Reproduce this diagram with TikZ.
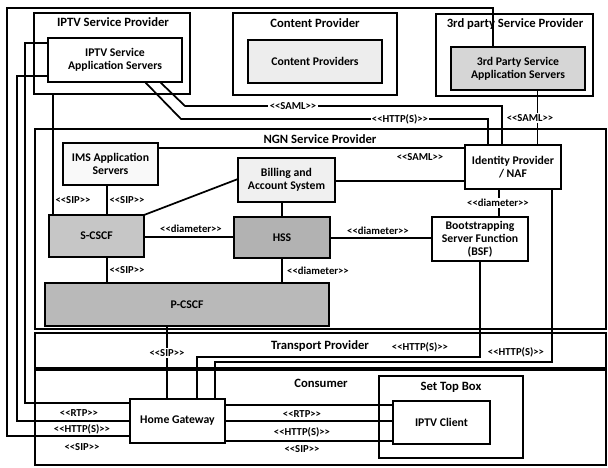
\documentclass[tikz,border=0pt]{standalone}
\usepackage{fontspec}
\setmainfont{Carlito}
\newcommand\bx[7]{%
  \node[#6, minimum width={(#4-#2)*0.75pt}, minimum height={(#5-#3)*0.75pt}] (#1) at ({(#2+#4)/2},{(#3+#5)/2}) {#7};}
\newcommand\st[1]{<{}<#1>{}>}
\begin{document}
\begin{tikzpicture}[x=0.75pt,y=-0.75pt,
  frame/.style={draw,line width=0.9pt,inner sep=0pt,outer sep=0pt},
  box/.style={draw,line width=1pt,inner sep=0pt,outer sep=0pt,align=center,font=\fontsize{8.8}{9.8}\selectfont\bfseries},
  conn/.style={line width=1.3pt},
  thinconn/.style={line width=0.6pt},
  lbl/.style={font=\fontsize{8}{8.5}\selectfont\bfseries,inner sep=1pt},
  lblw/.style={lbl,fill=white},
  ttl/.style={font=\fontsize{9.5}{10.5}\selectfont\bfseries,inner sep=0pt},
]
\fill[white] (0,0) rectangle (608,468);
\useasboundingbox (0,0) rectangle (608,468);
% frames
\bx{iptvsp}{34}{13}{190}{94}{frame}{}
\bx{contp}{233}{13}{397}{95}{frame}{}
\bx{thirdsp}{436}{14}{593}{96}{frame}{}
\bx{ngn}{35}{129}{606}{329}{frame}{}
\bx{transp}{35}{333}{606}{369}{frame}{}
\bx{cons}{35}{369}{606}{465}{frame}{}
\bx{stb}{379}{376}{523}{458}{frame}{}
\draw[line width=2.4pt] (transp.south west) -- (transp.south east);
\draw[line width=1.5pt] (ngn.north west) -- (ngn.north east);
% titles
\node[ttl] (t1) at (113,22) {IPTV Service Provider};
\node[ttl] (t2) at (315,23) {Content Provider};
\node[ttl] (t3) at (515,24) {3rd party Service Provider};
\node[ttl] (t4) at (320,139) {NGN Service Provider};
\node[ttl] (t5) at (320,346) {Transport Provider};
\node[ttl] (t6) at (321,383) {Consumer};
\node[ttl] (t7) at (451,387) {Set Top Box};
% nodes
\bx{iptvas}{48}{38}{182}{82}{box,fill=white}{IPTV Service\\Application Servers}
\bx{contas}{248}{40}{382}{83}{box,fill=gray!14}{Content Providers}
\bx{thirdas}{451}{47}{585}{90}{box,fill=gray!32}{3rd Party Service\\Application Servers}
\bx{ims}{63}{143}{158}{185}{box,fill=gray!5}{IMS Application\\Servers}
\bx{bill}{238}{158}{335}{202}{box,fill=gray!12}{Billing and\\Account System}
\bx{idp}{465}{145}{561}{189}{box,fill=white}{Identity Provider\\/ NAF}
\bx{scscf}{49}{215}{144}{257}{box,fill=gray!45}{S-CSCF}
\bx{hss}{234}{217}{330}{258}{box,fill=gray!60}{HSS}
\bx{bsf}{432}{217}{528}{261}{box,fill=white}{Bootstrapping\\Server Function\\(BSF)}
\bx{pcscf}{45}{283}{329}{326}{box,fill=gray!55}{P-CSCF}
\bx{hg}{130}{399}{225}{443}{box,fill=white}{Home Gateway}
\bx{client}{393}{401}{490}{444}{box,fill=white}{IPTV Client}
% connectors
\draw[conn] (iptvsp.south -| 53,0) -- (scscf.north -| 53,0);
\draw[conn] (ims.south -| 107,0) -- (scscf.north -| 107,0);
\draw[conn] (scscf.south -| 107,0) -- (pcscf.north -| 107,0);
\draw[conn] (scscf.north east) -- (bill.west |- 0,179);
\draw[conn] (scscf.east |- 0,237) -- (hss.west |- 0,237);
\draw[conn] (bill.south -| 282,0) -- (hss.north -| 282,0);
\draw[conn] (hss.south -| 282,0) -- (pcscf.north -| 282,0);
\draw[conn] (hss.east |- 0,238) -- (bsf.west |- 0,238);
\draw[conn] (bill.east |- 0,181) -- (idp.west |- 0,181);
\draw[conn] (ims.east |- 0,148) -- (idp.west |- 0,148);
\draw[conn] (idp.south -| 499,0) -- (bsf.north -| 499,0);
\draw[conn] (iptvas.south -| 160,0) -- (185,106) -- (502,106) -- (idp.north -| 502,0);
\draw[conn] (iptvas.south -| 145,0) -- (181,119) -- (488,119) -- (idp.north -| 488,0);
\draw[thinconn] (thirdas.south -| 537,0) -- (idp.north -| 537,0);
\draw[conn] (pcscf.south -| 167,0) -- (hg.north -| 167,0);
\draw[conn] (bsf.south -| 480,0) -- (480,357) -- (197,357) -- (hg.north -| 197,0);
\draw[conn] (idp.south -| 552,0) -- (552,362) -- (215,362) -- (hg.north -| 215,0);
\draw[conn] (hg.east |- 0,405) -- (client.west |- 0,405);
\draw[conn] (hg.east |- 0,421) -- (client.west |- 0,421);
\draw[conn] (hg.east |- 0,441) -- (client.west |- 0,441);
\draw[conn] (iptvas.west |- 0,43) -- (25,43) -- (25,403) -- (hg.west |- 0,403);
\draw[conn] (iptvas.west |- 0,76) -- (17,76) -- (17,421) -- (hg.west |- 0,421);
\draw[conn] (thirdas.north -| 493,0) -- (493,8) -- (7,8) -- (7,436) -- (hg.west |- 0,436);
% labels
\node[lbl] (l1) at (73,200) {\st{SIP}};
\node[lbl] (l2) at (127,200) {\st{SIP}};
\node[lbl] (l3) at (127,270) {\st{SIP}};
\node[lbl] (l4) at (191,229) {\st{diameter}};
\node[lbl] (l5) at (318,271) {\st{diameter}};
\node[lbl] (l6) at (378,231) {\st{diameter}};
\node[lbl] (l7) at (420,157) {\st{SAML}};
\node[lblw] (l8) at (498,203) {\st{diameter}};
\node[lblw] (l9) at (293,106) {\st{SAML}};
\node[lblw] (l10) at (400,119) {\st{HTTP(S)}};
\node[lblw] (l11) at (530,118) {\st{SAML}};
\node[lblw] (l12) at (167,353) {\st{SIP}};
\node[lbl] (l13) at (420,347) {\st{HTTP(S)}};
\node[lbl] (l14) at (516,352) {\st{HTTP(S)}};
\node[lbl] (l15) at (79,413) {\st{RTP}};
\node[lbl] (l16) at (82,429) {\st{HTTP(S)}};
\node[lbl] (l17) at (82,447) {\st{SIP}};
\node[lbl] (l18) at (302,414) {\st{RTP}};
\node[lbl] (l19) at (302,432) {\st{HTTP(S)}};
\node[lbl] (l20) at (302,449) {\st{SIP}};
\end{tikzpicture}
\end{document}
